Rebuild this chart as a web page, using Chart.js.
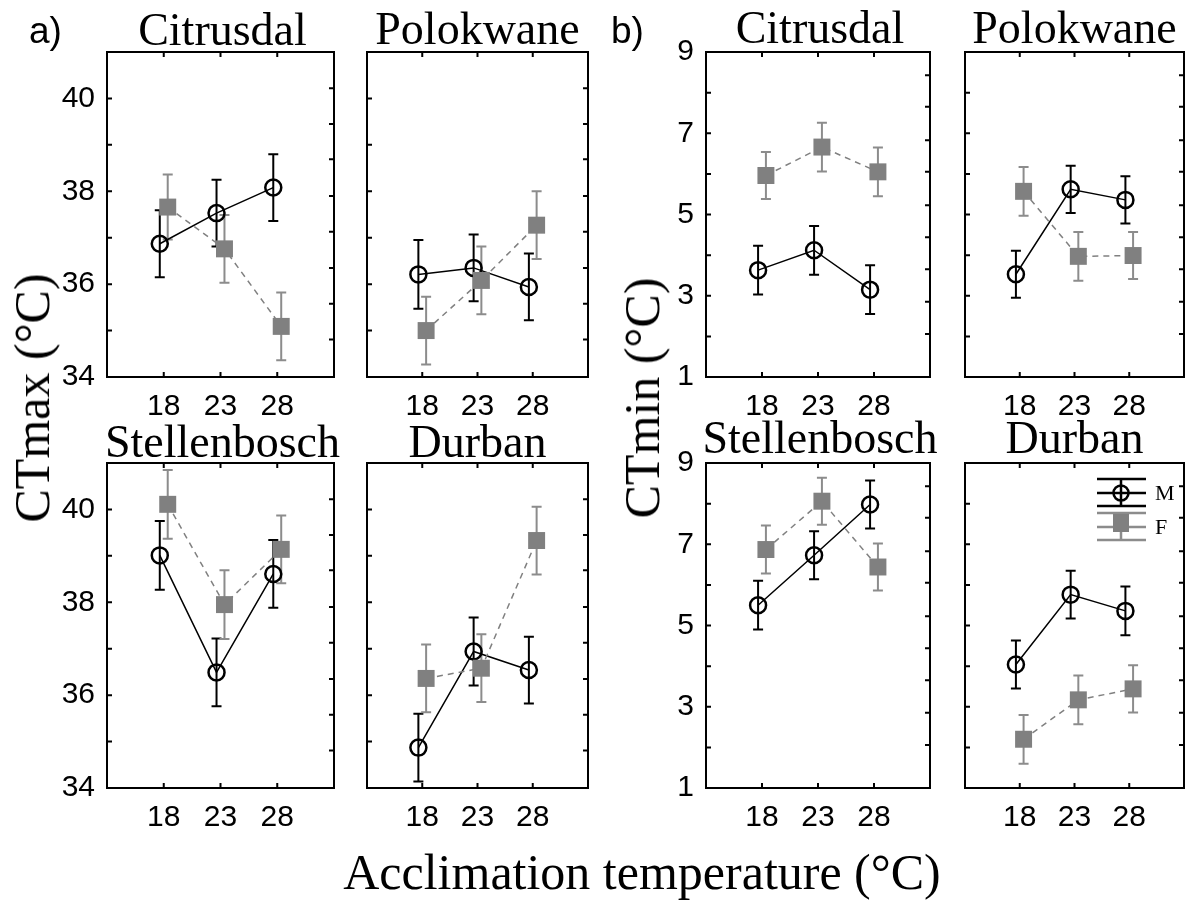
<!DOCTYPE html>
<html>
<head>
<meta charset="utf-8">
<script src="https://cdn.jsdelivr.net/npm/chart.js@4.4.0/dist/chart.umd.min.js"></script>
<style>
    body { margin: 0; background: #fff; }
    #page { position: relative; width: 1191px; height: 903px; overflow: hidden; }
    canvas { position: absolute; }
    .txt { position: absolute; white-space: nowrap; color: #000; }
    .serif { font-family: 'Liberation Serif', 'Times New Roman', serif; }
    .sans { font-family: 'Liberation Sans', Arial, sans-serif; }
    .title { font-size: 46px; line-height: 46px; width: 320px; text-align: center; }
</style>
</head>
<body>
<div id="page"></div>
<script>
// Températures d'acclimatation (axe x)
const temps = [18, 23, 28];
const xTicks = [18, 23, 28];

// Graduations
const ctmaxTicks = [34, 36, 38, 40];
const ctmaxMinor = [35, 36, 37, 38, 39, 40];
const ctmaxRight = [40.22, 39.45, 38.69, 37.9, 37.13, 36.35, 35.58, 34.81];
const ctminTicks = [1, 3, 5, 7, 9];
const ctminMinor = [2, 3, 4, 5, 6, 7, 8];
const ctminRight = [8.43, 7.65, 6.83, 6.05, 5.23, 4.44, 3.65, 2.85, 2.06];

// ==================== CTmax (a) ====================
const citrusdalMaxM = [36.87, 37.53, 38.08];
const citrusdalMaxMErr = [0.72, 0.72, 0.72];
const citrusdalMaxF = [37.66, 36.76, 35.09];
const citrusdalMaxFErr = [0.70, 0.73, 0.73];

const polokwaneMaxM = [36.21, 36.35, 35.94];
const polokwaneMaxMErr = [0.74, 0.72, 0.72];
const polokwaneMaxF = [35.00, 36.08, 37.27];
const polokwaneMaxFErr = [0.73, 0.73, 0.73];

const stellenboschMaxM = [39.01, 36.49, 38.61];
const stellenboschMaxMErr = [0.74, 0.73, 0.73];
const stellenboschMaxF = [40.11, 37.95, 39.14];
const stellenboschMaxFErr = [0.74, 0.74, 0.73];

const durbanMaxM = [34.87, 36.94, 36.54];
const durbanMaxMErr = [0.73, 0.73, 0.72];
const durbanMaxF = [36.36, 36.58, 39.33];
const durbanMaxFErr = [0.73, 0.73, 0.73];

// ==================== CTmin (b) ====================
const citrusdalMinM = [3.63, 4.12, 3.15];
const citrusdalMinMErr = [0.60, 0.60, 0.60];
const citrusdalMinF = [5.96, 6.66, 6.05];
const citrusdalMinFErr = [0.58, 0.60, 0.60];

const polokwaneMinM = [3.53, 5.62, 5.36];
const polokwaneMinMErr = [0.58, 0.58, 0.58];
const polokwaneMinF = [5.57, 3.97, 3.99];
const polokwaneMinFErr = [0.60, 0.60, 0.58];

const stellenboschMinM = [5.50, 6.73, 7.98];
const stellenboschMinMErr = [0.60, 0.59, 0.59];
const stellenboschMinF = [6.87, 8.06, 6.44];
const stellenboschMinFErr = [0.59, 0.58, 0.58];

const durbanMinM = [4.04, 5.76, 5.36];
const durbanMinMErr = [0.59, 0.59, 0.60];
const durbanMinF = [2.20, 3.17, 3.44];
const durbanMinFErr = [0.60, 0.60, 0.58];

// décalage horizontal des symboles M / F
const maleShift = -0.35;
const femaleShift = 0.35;

const GREY = '#808080';
const GREY_BAR = '#8c8c8c';

const maxAxis = { min: 34, max: 41, ticks: ctmaxTicks, minor: ctmaxMinor, right: ctmaxRight };
const minAxis = { min: 1, max: 9, ticks: ctminTicks, minor: ctminMinor, right: ctminRight };

const panels = [
    { title: 'Citrusdal', box: [107, 52, 231, 325], base: 45, axis: maxAxis, labels: true,
      m: citrusdalMaxM, mErr: citrusdalMaxMErr, f: citrusdalMaxF, fErr: citrusdalMaxFErr },
    { title: 'Polokwane', box: [363, 52, 229, 325], base: 44, axis: maxAxis, labels: false,
      m: polokwaneMaxM, mErr: polokwaneMaxMErr, f: polokwaneMaxF, fErr: polokwaneMaxFErr },
    { title: 'Stellenbosch', box: [107, 463, 231, 325], base: 457, axis: maxAxis, labels: true,
      m: stellenboschMaxM, mErr: stellenboschMaxMErr, f: stellenboschMaxF, fErr: stellenboschMaxFErr },
    { title: 'Durban', box: [363, 463, 229, 325], base: 457, axis: maxAxis, labels: false,
      m: durbanMaxM, mErr: durbanMaxMErr, f: durbanMaxF, fErr: durbanMaxFErr },
    { title: 'Citrusdal', box: [706, 52, 228, 325], base: 43, axis: minAxis, labels: true,
      m: citrusdalMinM, mErr: citrusdalMinMErr, f: citrusdalMinF, fErr: citrusdalMinFErr },
    { title: 'Polokwane', box: [961, 52, 227, 325], base: 43, axis: minAxis, labels: false,
      m: polokwaneMinM, mErr: polokwaneMinMErr, f: polokwaneMinF, fErr: polokwaneMinFErr },
    { title: 'Stellenbosch', box: [706, 463, 228, 325], base: 453, axis: minAxis, labels: true,
      m: stellenboschMinM, mErr: stellenboschMinMErr, f: stellenboschMinF, fErr: stellenboschMinFErr },
    { title: 'Durban', box: [961, 463, 227, 325], base: 453, axis: minAxis, labels: false, legend: true,
      m: durbanMinM, mErr: durbanMinMErr, f: durbanMinF, fErr: durbanMinFErr }
];

// Barres d'erreur (sous les symboles)
const errorBars = {
    id: 'errorBars',
    beforeDatasetsDraw(chart) {
        const ctx = chart.ctx;
        const y = chart.scales.y;
        chart.data.datasets.forEach((ds, di) => {
            const meta = chart.getDatasetMeta(di);
            ctx.save();
            ctx.strokeStyle = ds.errColor;
            ctx.lineWidth = 2;
            meta.data.forEach((pt, i) => {
                const v = ds.data[i].y;
                const e = ds.errors[i];
                const top = y.getPixelForValue(v + e);
                const bot = y.getPixelForValue(v - e);
                ctx.beginPath();
                ctx.moveTo(pt.x, top); ctx.lineTo(pt.x, bot);
                ctx.moveTo(pt.x - 5, top); ctx.lineTo(pt.x + 5, top);
                ctx.moveTo(pt.x - 5, bot); ctx.lineTo(pt.x + 5, bot);
                ctx.stroke();
            });
            ctx.restore();
        });
    }
};

// Cadre + graduations intérieures + légende
const frame = {
    id: 'frame',
    afterDraw(chart, args, opts) {
        const ctx = chart.ctx;
        const a = chart.chartArea;
        const x = chart.scales.x;
        const y = chart.scales.y;
        const L = 5;
        ctx.save();
        ctx.strokeStyle = '#000';
        ctx.lineWidth = 2;
        ctx.strokeRect(a.left, a.top, a.right - a.left, a.bottom - a.top);
        ctx.beginPath();
        opts.minor.forEach(v => {
            const py = y.getPixelForValue(v);
            ctx.moveTo(a.left, py); ctx.lineTo(a.left + L, py);
        });
        opts.right.forEach(v => {
            const py = y.getPixelForValue(v);
            ctx.moveTo(a.right, py); ctx.lineTo(a.right - L, py);
        });
        xTicks.forEach(v => {
            const px = x.getPixelForValue(v);
            ctx.moveTo(px, a.top); ctx.lineTo(px, a.top + L);
            ctx.moveTo(px, a.bottom); ctx.lineTo(px, a.bottom - L);
        });
        ctx.stroke();

        if (opts.legend) {
            const x0 = a.left + 132, x1 = a.left + 181, cx = a.left + 156;
            // M
            ctx.strokeStyle = '#000';
            ctx.lineWidth = 2.5;
            ctx.beginPath();
            [16, 30, 43].forEach(d => { ctx.moveTo(x0, a.top + d); ctx.lineTo(x1, a.top + d); });
            ctx.moveTo(cx, a.top + 16); ctx.lineTo(cx, a.top + 43);
            ctx.stroke();
            ctx.beginPath();
            ctx.arc(cx, a.top + 30, 7.5, 0, Math.PI * 2);
            ctx.stroke();
            // F
            ctx.strokeStyle = GREY_BAR;
            ctx.beginPath();
            [50, 64, 77].forEach(d => { ctx.moveTo(x0, a.top + d); ctx.lineTo(x1, a.top + d); });
            ctx.moveTo(cx, a.top + 50); ctx.lineTo(cx, a.top + 77);
            ctx.stroke();
            ctx.fillStyle = GREY;
            ctx.fillRect(cx - 8, a.top + 51, 16, 18);
            ctx.fillStyle = '#000';
            ctx.font = '22px "Liberation Serif"';
            ctx.textBaseline = 'middle';
            ctx.fillText('M', a.left + 190, a.top + 31);
            ctx.fillText('F', a.left + 190, a.top + 65);
        }
        ctx.restore();
    }
};

function addText(text, cls, left, top, extraStyle) {
    const d = document.createElement('div');
    d.className = 'txt ' + cls;
    d.textContent = text;
    d.style.left = left + 'px';
    d.style.top = top + 'px';
    if (extraStyle) Object.assign(d.style, extraStyle);
    document.getElementById('page').appendChild(d);
    return d;
}

function makePanel(p) {
    const page = document.getElementById('page');
    const [bx, by, bw, bh] = p.box;
    const yw = p.labels ? 70 : 0;
    const padLeft = p.labels ? 0 : 8;
    const padTop = 34, padRight = 8, xh = 52;

    const canvas = document.createElement('canvas');
    const w = padLeft + yw + bw + padRight;
    const h = padTop + bh + xh;
    canvas.width = w;
    canvas.height = h;
    canvas.style.width = w + 'px';
    canvas.style.height = h + 'px';
    canvas.style.left = (bx - yw - padLeft) + 'px';
    canvas.style.top = (by - padTop) + 'px';
    page.appendChild(canvas);

    const tickFont = { family: 'Liberation Sans', size: 30 };

    new Chart(canvas.getContext('2d'), {
        type: 'line',
        data: {
            datasets: [{
                label: 'M',
                data: temps.map((t, i) => ({ x: t + maleShift, y: p.m[i] })),
                errors: p.mErr,
                errColor: '#000',
                borderColor: '#000',
                borderWidth: 1.5,
                pointStyle: 'circle',
                pointRadius: 8,
                pointBorderWidth: 2.5,
                pointBorderColor: '#000',
                pointBackgroundColor: 'rgba(0,0,0,0)',
                order: 1
            }, {
                label: 'F',
                data: temps.map((t, i) => ({ x: t + femaleShift, y: p.f[i] })),
                errors: p.fErr,
                errColor: GREY_BAR,
                borderColor: GREY,
                borderWidth: 1.5,
                borderDash: [6, 5],
                pointStyle: 'rect',
                pointRadius: 12,
                pointBorderWidth: 0,
                pointBorderColor: GREY,
                pointBackgroundColor: GREY,
                order: 0
            }]
        },
        options: {
            responsive: false,
            animation: false,
            devicePixelRatio: 1,
            layout: { padding: { top: padTop, right: padRight, left: padLeft, bottom: 0 } },
            plugins: {
                legend: { display: false },
                tooltip: { enabled: false },
                frame: { minor: p.axis.minor, right: p.axis.right, legend: !!p.legend }
            },
            scales: {
                x: {
                    type: 'linear',
                    min: 13,
                    max: 33,
                    grid: { display: false, drawTicks: false },
                    border: { display: false },
                    afterBuildTicks: s => { s.ticks = xTicks.map(v => ({ value: v })); },
                    afterFit: s => { s.height = xh; },
                    ticks: { font: tickFont, color: '#000', padding: 12, maxRotation: 0, autoSkip: false }
                },
                y: {
                    type: 'linear',
                    min: p.axis.min,
                    max: p.axis.max,
                    grid: { display: false, drawTicks: false },
                    border: { display: false },
                    afterBuildTicks: s => { s.ticks = p.axis.ticks.map(v => ({ value: v })); },
                    afterFit: s => { s.width = yw; },
                    ticks: { display: p.labels, font: tickFont, color: '#000', padding: 12, autoSkip: false }
                }
            }
        },
        plugins: [errorBars, frame]
    });

    // Titre du panneau
    addText(p.title, 'serif title', bx + bw / 2 - 160, p.base - 38.5);
}

panels.forEach(makePanel);

// Lettres des panneaux
addText('a)', 'sans', 29, 43 - 31.3, { fontSize: '37px', lineHeight: '37px' });
addText('b)', 'sans', 611, 43 - 31.3, { fontSize: '37px', lineHeight: '37px' });

// Titres des axes
addText('CTmax (°C)', 'serif', 32, 398, { fontSize: '50px', lineHeight: '50px', transform: 'translate(-50%, -50%) rotate(-90deg)' });
addText('CTmin (°C)', 'serif', 642, 398, { fontSize: '50px', lineHeight: '50px', transform: 'translate(-50%, -50%) rotate(-90deg)' });
addText('Acclimation temperature (°C)', 'serif', 642, 889 - 41.9, { fontSize: '50px', lineHeight: '50px', transform: 'translateX(-50%)' });
</script>
</body>
</html>
